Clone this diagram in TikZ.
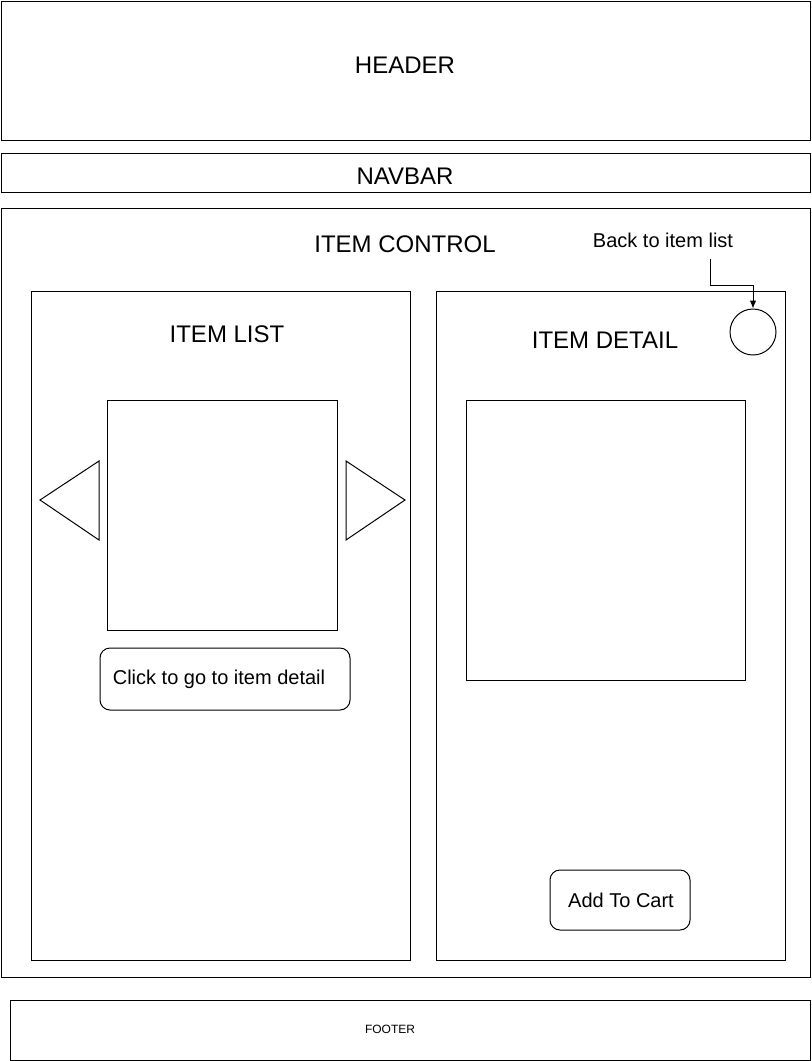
\documentclass[tikz,border=0pt]{standalone}
\usepackage{fontspec}
\setmainfont{Liberation Sans}
\usepackage{tikz}
\usetikzlibrary{arrows.meta}
\tikzset{
    box/.style={draw, line width=0.75pt},
    btn/.style={draw, line width=0.75pt, rounded corners=7.5pt},
    bigtext/.style={font=\fontsize{18}{20}\selectfont},
    smalltext/.style={font=\fontsize{15}{17}\selectfont}
}

\begin{document}
\begin{tikzpicture}[x=0.75pt, y=-0.75pt]

    \useasboundingbox (0, 0) rectangle (811, 1061);

    % page frame
    \draw [box] (1, 1) rectangle (810, 140);
    \node [bigtext] (header) at (405, 65) {HEADER};

    \draw [box] (1, 153) rectangle (810, 192);
    \node [bigtext] (navbar) at (405, 176) {NAVBAR};

    \draw [box] (1, 208) rectangle (810, 977);
    \node [bigtext] (control) at (405, 244) {ITEM CONTROL};

    \draw [box] (10, 1000) rectangle (810, 1060);
    \node [font=\fontsize{9}{10}\selectfont] (footer) at (390, 1029) {FOOTER};

    % item list
    \draw [box] (31, 291) rectangle (410, 960);
    \node [bigtext] (list) at (227, 334) {ITEM LIST};
    \draw [box] (107, 400) rectangle (337, 630);
    \draw [box] (40, 500) -- (99, 461) -- (99, 540) -- cycle;
    \draw [box] (346, 461) -- (405, 500) -- (346, 540) -- cycle;
    \draw [btn] (100, 648) rectangle (350, 710);
    \node [smalltext] (golink) at (219, 679) {Click to go to item detail};

    % item detail
    \draw [box] (436, 291) rectangle (785, 960);
    \node [bigtext] (detail) at (605, 340) {ITEM DETAIL};
    \draw [box] (466, 400) rectangle (745, 680);
    \draw [btn] (550, 870) rectangle (690, 930);
    \node [smalltext] (cart) at (621, 900) {Add To Cart};

    \node [draw, circle, line width=0.75pt, minimum size=34.5pt] (backbtn) at (753, 332) {};
    \node [smalltext] (back) at (663, 240) {Back to item list};
    \coordinate (bend) at (710, 285);
    \draw [-{Latex[length=6pt, width=5pt]}, line width=0.75pt]
        ([yshift=-5pt]back.south -| bend) -- (bend) -| (backbtn.north);

\end{tikzpicture}
\end{document}
